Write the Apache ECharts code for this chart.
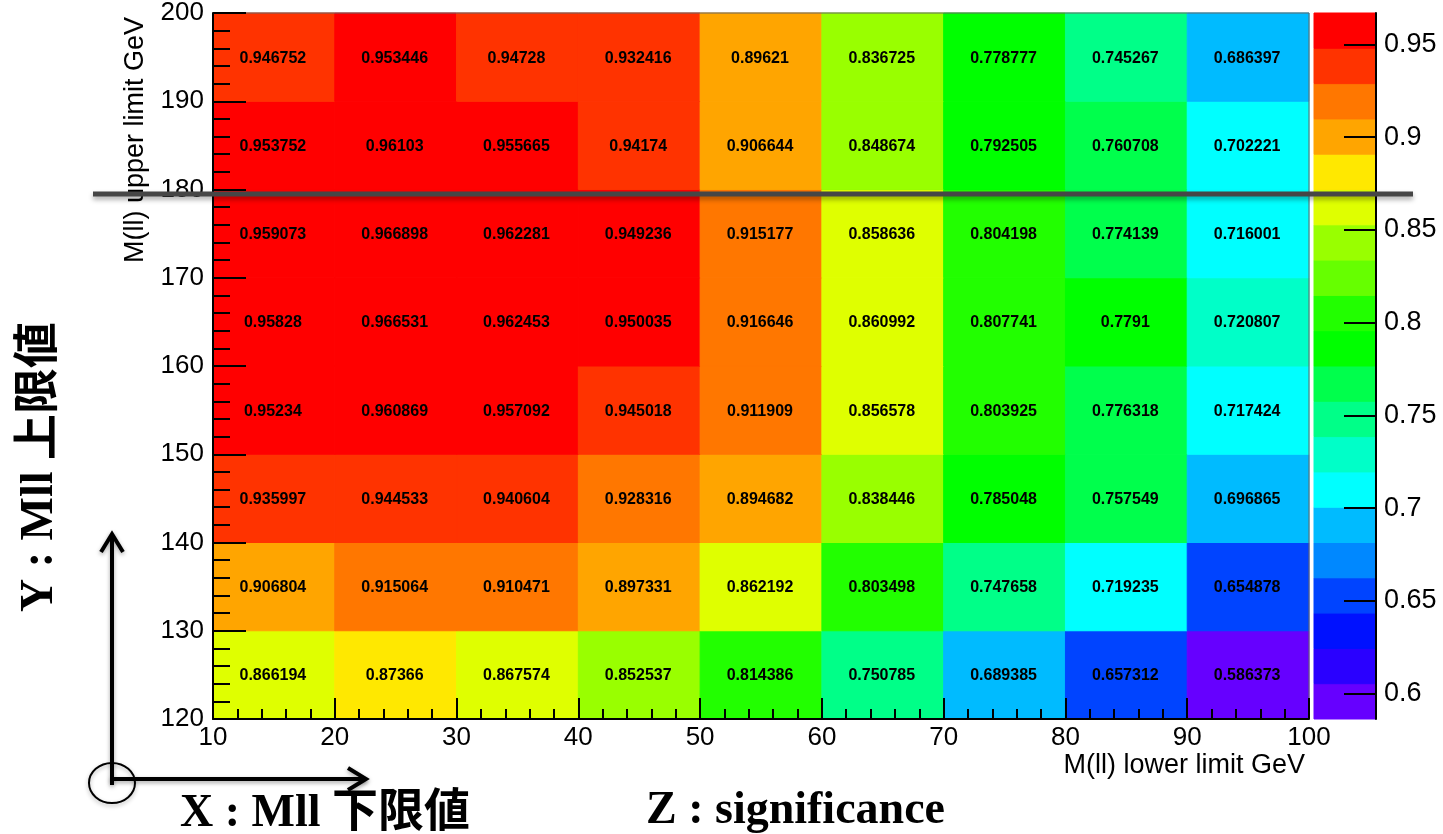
<!DOCTYPE html>
<html>
<head>
<meta charset="utf-8">
<script src="https://cdn.jsdelivr.net/npm/echarts@6/dist/echarts.min.js"></script>
<style>
html,body{margin:0;padding:0;background:#fff;}
#chart{width:1443px;height:834px;}
</style>
</head>
<body>
<div id="chart"></div>
<script>
// ---- data ----
const xEdges = [10, 20, 30, 40, 50, 60, 70, 80, 90, 100];   // M(ll) lower limit bins
const yEdges = [120, 130, 140, 150, 160, 170, 180, 190, 200]; // M(ll) upper limit bins
// significance per row (y bin lower edge), x bins left to right
const row120 = [0.866194, 0.87366, 0.867574, 0.852537, 0.814386, 0.750785, 0.689385, 0.657312, 0.586373];
const row130 = [0.906804, 0.915064, 0.910471, 0.897331, 0.862192, 0.803498, 0.747658, 0.719235, 0.654878];
const row140 = [0.935997, 0.944533, 0.940604, 0.928316, 0.894682, 0.838446, 0.785048, 0.757549, 0.696865];
const row150 = [0.95234, 0.960869, 0.957092, 0.945018, 0.911909, 0.856578, 0.803925, 0.776318, 0.717424];
const row160 = [0.95828, 0.966531, 0.962453, 0.950035, 0.916646, 0.860992, 0.807741, 0.7791, 0.720807];
const row170 = [0.959073, 0.966898, 0.962281, 0.949236, 0.915177, 0.858636, 0.804198, 0.774139, 0.716001];
const row180 = [0.953752, 0.96103, 0.955665, 0.94174, 0.906644, 0.848674, 0.792505, 0.760708, 0.702221];
const row190 = [0.946752, 0.953446, 0.94728, 0.932416, 0.89621, 0.836725, 0.778777, 0.745267, 0.686397];
const rows = [row120, row130, row140, row150, row160, row170, row180, row190];
// 20-colour palette, lowest to highest
const palette = ['#6600ff', '#2a00ff', '#0011ff', '#0044ff', '#0088ff', '#00bbff', '#00ffff', '#00ffc8',
  '#00ff88', '#00ff4c', '#00ff00', '#22ff00', '#66ff00', '#99ff00', '#dfff00', '#ffe800',
  '#ffa500', '#ff7700', '#ff3300', '#ff0000'];
const zTicks = [0.6, 0.65, 0.7, 0.75, 0.8, 0.85, 0.9, 0.95];
const xTitle = 'M(ll) lower limit GeV';
const yTitle = 'M(ll) upper limit GeV';

// ---- build ----
const cells = [];
rows.forEach((r, j) => r.forEach((v, i) => cells.push([xEdges[i], yEdges[j], v, xEdges[i + 1], yEdges[j + 1]])));
const allZ = rows.flat();
const zmin = Math.min(...allZ), zmax = Math.max(...allZ);
const nCol = palette.length;
const step = (zmax - zmin) / nCol;
const pieces = palette.map((c, k) => {
  const p = { color: c };
  if (k > 0) p.gte = zmin + (k - 0.01) * step;
  if (k < nCol - 1) p.lt = zmin + (k + 1 - 0.01) * step;
  return p;
});
const bands = palette.map((c, k) => [0, zmin + k * step, k, 1, zmin + (k + 1) * step]);

const FONT = '"Liberation Sans", Arial, Helvetica, sans-serif';
const SERIF = '"Liberation Serif", "Times New Roman", "Noto Sans CJK JP", serif';

const chart = echarts.init(document.getElementById('chart'), null, { renderer: 'canvas' });
chart.setOption({
  animation: false,
  backgroundColor: '#fff',
  grid: [
    { left: 213, top: 13, width: 1096, height: 706, show: true, borderColor: '#666', borderWidth: 1, backgroundColor: 'transparent', z: 8 },
    { left: 1314, top: 13, width: 62, height: 706, show: false }
  ],
  xAxis: [
    {
      gridIndex: 0, type: 'value', min: 10, max: 100, interval: 10, z: 10,
      axisLine: { show: true, onZero: false, lineStyle: { color: '#000', width: 2 } },
      axisTick: { show: true, inside: true, length: 21, lineStyle: { color: '#000', width: 2 } },
      minorTick: { show: true, splitNumber: 5, length: 10, lineStyle: { color: '#000', width: 2 } },
      splitLine: { show: false },
      axisLabel: { color: '#000', fontSize: 26, fontFamily: FONT, margin: 6 }
    },
    { gridIndex: 1, type: 'value', min: 0, max: 1, show: false }
  ],
  yAxis: [
    {
      gridIndex: 0, type: 'value', min: 120, max: 200, interval: 10, z: 10,
      axisLine: { show: true, onZero: false, lineStyle: { color: '#000', width: 2 } },
      axisTick: { show: true, inside: true, length: 33, lineStyle: { color: '#000', width: 2 } },
      minorTick: { show: true, splitNumber: 5, length: 17, lineStyle: { color: '#000', width: 2 } },
      splitLine: { show: false },
      axisLabel: { color: '#000', fontSize: 26, fontFamily: FONT, margin: 9 }
    },
    {
      gridIndex: 1, type: 'value', min: zmin, max: zmax, position: 'right', z: 10,
      axisLine: { show: true, onZero: false, lineStyle: { color: '#000', width: 2 } },
      axisTick: { show: true, inside: true, length: 32, customValues: zTicks, lineStyle: { color: '#000', width: 2 } },
      axisLabel: { color: '#000', fontSize: 27, fontFamily: FONT, margin: 8, customValues: zTicks },
      splitLine: { show: false }
    }
  ],
  visualMap: {
    type: 'piecewise', show: false, seriesIndex: 0, dimension: 2, pieces: pieces
  },
  series: [
    {
      type: 'custom', xAxisIndex: 0, yAxisIndex: 0, data: cells,
      encode: { x: [0, 3], y: [1, 4] },
      renderItem: function (params, api) {
        const p1 = api.coord([api.value(0), api.value(4)]);
        const p2 = api.coord([api.value(3), api.value(1)]);
        const v = api.value(2);
        const c = api.visual('color');
        return {
          type: 'group',
          children: [
            { type: 'rect', shape: { x: p1[0], y: p1[1], width: p2[0] - p1[0], height: p2[1] - p1[1] },
              style: { fill: c, stroke: c, lineWidth: 1 } },
            { type: 'text', x: (p1[0] + p2[0]) / 2 - 1, y: (p1[1] + p2[1]) / 2 + 1, z2: 5,
              style: { text: String(v), fill: '#000', font: 'bold 16px ' + FONT, align: 'center', verticalAlign: 'middle' } }
          ]
        };
      },
      z: 1
    },
    {
      type: 'custom', xAxisIndex: 1, yAxisIndex: 1, data: bands,
      encode: { x: [0, 3], y: [1, 4] },
      renderItem: function (params, api) {
        const p1 = api.coord([api.value(0), api.value(4)]);
        const p2 = api.coord([api.value(3), api.value(1)]);
        const c = palette[api.value(2)];
        return { type: 'rect', shape: { x: p1[0], y: p1[1], width: p2[0] - p1[0], height: p2[1] - p1[1] },
          style: { fill: c, stroke: c, lineWidth: 1 } };
      },
      z: 1
    }
  ],
  graphic: [
    { type: 'text', x: 136, y: 140, rotation: Math.PI / 2, z: 10,
      style: { text: yTitle, font: '27px ' + FONT, fill: '#000', align: 'center', verticalAlign: 'middle' } },
    { type: 'text', x: 1305, y: 752, z: 10,
      style: { text: xTitle, font: '27px ' + FONT, fill: '#000', align: 'right', verticalAlign: 'top' } },
    // annotation line at 180
    { type: 'line', z: 20, shape: { x1: 93, y1: 194, x2: 1413, y2: 194 },
      style: { stroke: '#464646', lineWidth: 5, shadowBlur: 5, shadowColor: 'rgba(0,0,0,0.35)', shadowOffsetY: 3 } },
    // axes arrows
    { type: 'polyline', z: 20, shape: { points: [[112, 785], [112, 534]] },
      style: { stroke: '#000', lineWidth: 4, fill: null, shadowBlur: 4, shadowColor: 'rgba(0,0,0,0.35)', shadowOffsetY: 2 } },
    { type: 'polyline', z: 20, shape: { points: [[101, 552], [112, 534], [123, 552]] },
      style: { stroke: '#000', lineWidth: 4, fill: null, lineJoin: 'miter', shadowBlur: 4, shadowColor: 'rgba(0,0,0,0.35)', shadowOffsetY: 2 } },
    { type: 'polyline', z: 20, shape: { points: [[110, 779], [366, 779]] },
      style: { stroke: '#000', lineWidth: 4, fill: null, shadowBlur: 4, shadowColor: 'rgba(0,0,0,0.35)', shadowOffsetY: 2 } },
    { type: 'polyline', z: 20, shape: { points: [[348, 768], [366, 779], [348, 790]] },
      style: { stroke: '#000', lineWidth: 4, fill: null, lineJoin: 'miter', shadowBlur: 4, shadowColor: 'rgba(0,0,0,0.35)', shadowOffsetY: 2 } },
    { type: 'ellipse', z: 20, shape: { cx: 112, cy: 783, rx: 23, ry: 20 },
      style: { stroke: '#000', lineWidth: 2, fill: null, shadowBlur: 4, shadowColor: 'rgba(0,0,0,0.3)', shadowOffsetY: 2 } },
    // big annotation labels
    { type: 'text', x: 40, y: 467, rotation: Math.PI / 2, z: 20,
      style: { text: 'Y : Mll 上限値', font: 'bold 46px ' + SERIF, fill: '#000', align: 'center', verticalAlign: 'middle' } },
    { type: 'text', x: 180, y: 814, z: 20,
      style: { text: 'X : Mll 下限値', font: 'bold 46px ' + SERIF, fill: '#000', align: 'left', verticalAlign: 'middle' } },
    { type: 'text', x: 646, y: 811, z: 20,
      style: { text: 'Z : significance', font: 'bold 46px ' + SERIF, fill: '#000', align: 'left', verticalAlign: 'middle' } }
  ]
});
</script>
</body>
</html>
